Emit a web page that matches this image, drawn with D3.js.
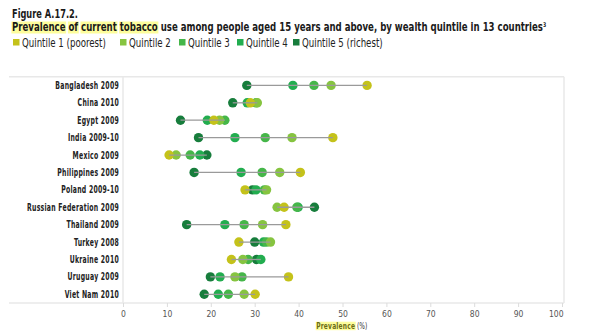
<!DOCTYPE html>
<html><head><meta charset="utf-8">
<script src="https://cdn.jsdelivr.net/npm/d3@7"></script>
<style>body{margin:0;background:#fff}</style></head>
<body>
<svg id="c" width="591" height="335"></svg>
<script>
const countries = ["Bangladesh 2009","China 2010","Egypt 2009","India 2009-10","Mexico 2009","Philippines 2009","Poland 2009-10","Russian Federation 2009","Thailand 2009","Turkey 2008","Ukraine 2010","Uruguay 2009","Viet Nam 2010"];
const quintiles = ["Quintile 1 (poorest)","Quintile 2","Quintile 3","Quintile 4","Quintile 5 (richest)"];
const q1 = [55.6, 29.0, 20.7, 47.8, 10.5, 40.4, 27.8, 36.7, 37.1, 26.4, 24.7, 37.7, 30.1];
const q2 = [47.4, 30.6, 22.0, 38.5, 12.1, 35.7, 32.7, 35.1, 31.8, 33.6, 27.3, 25.5, 27.6];
const q3 = [43.5, 30.3, 23.2, 32.4, 15.3, 31.7, 32.2, 39.6, 27.6, 32.7, 28.5, 27.1, 24.0];
const q4 = [38.7, 28.3, 19.2, 25.5, 17.5, 26.9, 30.3, 39.9, 23.2, 32.0, 31.4, 22.1, 21.7];
const q5 = [28.2, 25.0, 13.1, 17.2, 19.1, 16.2, 29.5, 43.6, 14.5, 30.0, 30.4, 19.9, 18.5];
const ticks = [0,10,20,30,40,50,60,70,80,90,100];
const colors = ["#c4c21a","#86c440","#45b649","#22ad4f","#177d3c"];

const series = [q1,q2,q3,q4,q5];
const svg = d3.select("#c");
const FONT = "'DejaVu Sans Condensed','Liberation Sans Narrow','Liberation Sans',sans-serif";

const x = d3.scaleLinear().domain([0,100]).range([123,562]);
const y = d3.scaleBand().domain(countries).range([76.7,303]).paddingInner(0).paddingOuter(0);
const yc = c => y(c) + y.bandwidth()/2;

// frame
const frame = svg.append("g").attr("stroke","#e8e8e8").attr("stroke-width",1.5).attr("fill","none");
frame.append("line").attr("x1",9).attr("x2",564).attr("y1",76.7).attr("y2",76.7);
frame.append("line").attr("x1",9).attr("x2",564).attr("y1",303).attr("y2",303);
frame.append("line").attr("x1",123).attr("x2",123).attr("y1",76.7).attr("y2",303);
frame.append("line").attr("x1",564).attr("x2",564).attr("y1",76.7).attr("y2",303);

// axis
const axis = svg.append("g").attr("transform","translate(0,303)")
  .call(d3.axisBottom(x).tickValues(ticks).tickSize(4).tickSizeOuter(0).tickPadding(4));
axis.select(".domain").remove();
axis.selectAll(".tick line").attr("stroke","#dcdcdc");
axis.selectAll(".tick text").attr("font-family",FONT).attr("font-size",8.5).attr("fill","#555")
  .attr("text-anchor",(d)=> d===100 ? "end" : "middle")
  .attr("dx",(d)=> d===100 ? 1 : 0);

// y labels (condensed to fit)
const ylab = svg.append("g");
const ylabs = countries.map(c=>{
  const g = ylab.append("g");
  const t = g.append("text").attr("text-anchor","end")
    .attr("font-family",FONT).attr("font-size",10.5).attr("font-weight","bold")
    .attr("letter-spacing",0.4).attr("fill","#222").text(c);
  return {c,g,t};
});
{
  const wMax = d3.max(ylabs, d=>d.t.node().getComputedTextLength());
  const s = 92 / wMax;
  ylabs.forEach(d=> d.g.attr("transform",`translate(119,${yc(d.c)+3.6}) scale(${s},1)`));
}

// dots (Q5 first, Q1 on top)
const rows = countries.map((c,i)=>({c, vals: series.map(s=>s[i])}));
const dots = svg.append("g");
for (let k=4;k>=0;k--){
  dots.selectAll(null).data(rows).enter().append("circle")
    .attr("cx",d=>x(d.vals[k])).attr("cy",d=>yc(d.c)).attr("r",4.7)
    .attr("fill",colors[k]);
}
// range lines
svg.append("g").selectAll("line").data(rows).enter().append("line")
  .attr("x1",d=>x(d3.min(d.vals))).attr("x2",d=>x(d3.max(d.vals)))
  .attr("y1",d=>yc(d.c)).attr("y2",d=>yc(d.c))
  .attr("stroke","#9a9a9a").attr("stroke-width",1.3);

// x axis label
const xl = svg.append("g");
xl.append("rect").attr("x",315.7).attr("y",321.7).attr("width",40).attr("height",8.5).attr("fill","#fdfd9c");
const xlg = xl.append("g");
const xlt = xlg.append("text").attr("font-family",FONT).attr("font-size",9.5);
xlt.append("tspan").attr("font-weight","bold").attr("fill","#6b6b14").attr("letter-spacing",0.3).text("Prevalence");
xlt.append("tspan").attr("fill","#333").text(" (%)");
{
  const n = xlt.node();
  const wp = n.getSubStringLength(0,10);
  const s = 39 / wp;
  xlg.attr("transform",`translate(316.2,329) scale(${s},1)`);
}

// title line 1
const t1g = svg.append("g");
const t1 = t1g.append("text").attr("font-family",FONT).attr("font-size",12.5).attr("font-weight","bold").attr("fill","#1a1a1a").text("Figure A.17.2.");
{ const w = t1.node().getComputedTextLength(); t1g.attr("transform",`translate(12,18) scale(${66/w},1)`); }

// title line 2 with highlights
const title2 = "Prevalence of current tobacco use among people aged 15 years and above, by wealth quintile in 13 countries";
const t2g = svg.append("g");
const hl = t2g.append("g");
const t2 = t2g.append("text").attr("font-family",FONT).attr("font-size",12).attr("font-weight","bold").attr("fill","#1a1a1a");
t2.append("tspan").text(title2);
t2.append("tspan").attr("font-size",6.5).attr("dy",-4.5).text("3");
{
  const n = t2.node();
  const w = n.getComputedTextLength();
  const sx = 535/w;
  t2g.attr("transform",`translate(12,31) scale(${sx},1)`);
  const words = ["Prevalence","of","current","tobacco"];
  let pos = 0;
  words.forEach(wd=>{
    const i = title2.indexOf(wd,pos);
    const x0 = i===0 ? 0 : n.getSubStringLength(0,i);
    const ww = n.getSubStringLength(i,wd.length);
    hl.append("rect").attr("x",x0-0.8).attr("y",-9.5).attr("width",ww+1.6).attr("height",12).attr("fill","#fdfd9c");
    pos = i+wd.length;
  });
}

// legend
const legX = [13,120,179,237,293];
const lg = svg.append("g");
let legScale = null;
quintiles.forEach((q,i)=>{
  lg.append("rect").attr("x",legX[i]).attr("y",39).attr("width",6.5).attr("height",6.5).attr("fill",colors[i]);
  const g = lg.append("g");
  const t = g.append("text").attr("font-family",FONT).attr("font-size",11.5).attr("fill","#222").text(q);
  if (legScale===null) legScale = 84 / t.node().getComputedTextLength();
  g.attr("transform",`translate(${legX[i]+9},46.5) scale(${legScale},1)`);
});
</script>
</body></html>
